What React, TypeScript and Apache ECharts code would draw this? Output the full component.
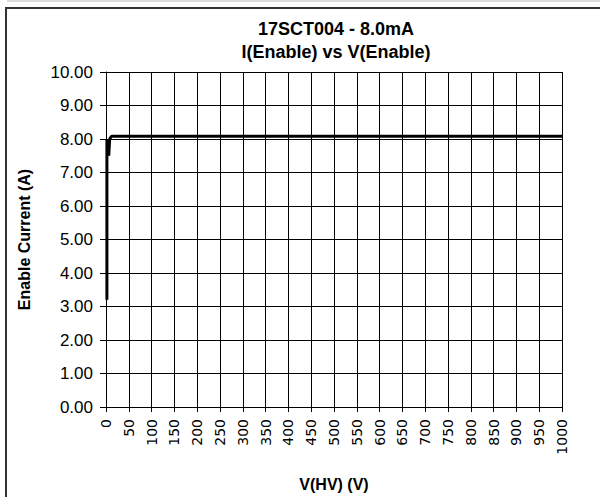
import React, { useEffect, useRef } from "react";
import * as echarts from "echarts";

const titleLines = ["17SCT004 - 8.0mA", "I(Enable) vs V(Enable)"];
const xAxisName = "V(HV) (V)";
const yAxisName = "Enable Current (A)";
const voltage = [2, 2, 6, 8, 12, 1000];
const current = [3.2, 8.0, 7.5, 8.0, 8.08, 8.08];

export default function App() {
  const ref = useRef<HTMLDivElement>(null);
  useEffect(() => {
    if (!ref.current) return;
    const chart = echarts.init(ref.current, null, { renderer: "svg" });
    chart.setOption({
      animation: false,
      backgroundColor: "#fff",
      title: {
        text: titleLines.join("\n"),
        left: 336,
        top: 17,
        padding: 0,
        textAlign: "center",
        textStyle: {
          fontFamily: "Liberation Sans",
          fontSize: 18,
          fontWeight: "bold",
          lineHeight: 23,
          color: "#000",
        },
      },
      graphic: [
        {
          type: "rect",
          shape: { x: 7, y: 0, width: 600, height: 2 },
          style: { fill: "#dcdcdc" },
          silent: true,
        },
        {
          type: "rect",
          shape: { x: 6, y: 8, width: 700, height: 600 },
          style: { fill: "none", stroke: "#333", lineWidth: 2 },
          silent: true,
        },
      ],
      grid: {
        left: 106,
        right: 38,
        top: 72,
        bottom: 90,
        containLabel: false,
        outerBoundsMode: "none",
      },
      xAxis: {
        type: "value",
        min: 0,
        max: 1000,
        interval: 50,
        name: xAxisName,
        nameLocation: "middle",
        nameGap: 69,
        nameTextStyle: {
          fontFamily: "Liberation Sans",
          fontSize: 16,
          fontWeight: "bold",
          color: "#000",
        },
        axisLine: { show: true, lineStyle: { color: "#000", width: 1 } },
        axisTick: { show: true, length: 5, lineStyle: { color: "#000" } },
        splitLine: { show: true, lineStyle: { color: "#000", width: 1 } },
        axisLabel: {
          rotate: 90,
          margin: 12,
          fontFamily: "DejaVu Sans",
          fontSize: 14,
          color: "#000",
          showMaxLabel: true,
          showMinLabel: true,
          formatter: (v: number) => String(v),
        },
      },
      yAxis: {
        type: "value",
        min: 0,
        max: 10,
        interval: 1,
        name: yAxisName,
        nameLocation: "middle",
        nameRotate: 90,
        nameGap: 74,
        nameTextStyle: {
          fontFamily: "Liberation Sans",
          fontSize: 16,
          fontWeight: "bold",
          color: "#000",
        },
        axisLine: { show: true, lineStyle: { color: "#000", width: 1 } },
        axisTick: { show: true, length: 6, lineStyle: { color: "#000" } },
        splitLine: { show: true, lineStyle: { color: "#000", width: 1 } },
        axisLabel: {
          margin: 13,
          fontFamily: "Liberation Sans",
          fontSize: 17,
          color: "#000",
          formatter: (v: number) => v.toFixed(2),
        },
      },
      series: [
        {
          type: "line",
          data: voltage.map((v, i) => [v, current[i]]),
          showSymbol: false,
          symbol: "none",
          lineStyle: { color: "#000", width: 3 },
          itemStyle: { color: "#000" },
        },
      ],
    });
    return () => chart.dispose();
  }, []);
  return (
    <div
      ref={ref}
      style={{ position: "absolute", left: 0, top: 0, width: 600, height: 497 }}
    />
  );
}
